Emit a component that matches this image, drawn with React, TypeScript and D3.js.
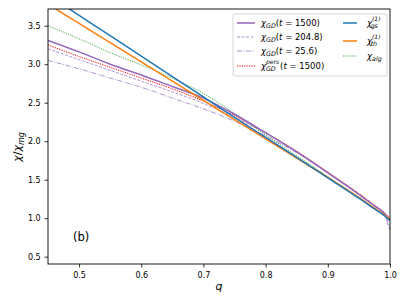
import React, { useEffect, useRef } from "react"
import * as d3 from "d3"

// chi / chi_mg versus q, panel (b)
const qs = [0.45, 0.5, 0.55, 0.6, 0.65, 0.7, 0.75, 0.8, 0.85, 0.9, 0.95, 0.975, 0.99, 1.0]
const chiGs = [3.9, 3.635, 3.37, 3.105, 2.84, 2.575, 2.31, 2.05, 1.79, 1.525, 1.26, 1.12, 1.04, 0.97]
const chiTh = [3.78, 3.53, 3.28, 3.03, 2.78, 2.53, 2.28, 2.03, 1.78, 1.53, 1.27, 1.13, 1.05, 0.99]
const chiAlg = [3.5, 3.33, 3.15, 2.99, 2.82, 2.62, 2.36, 2.08, 1.81, 1.54, 1.27, 1.13, 1.05, 0.98]
const gd1500 = [3.31, 3.16, 3.0, 2.86, 2.71, 2.56, 2.35, 2.11, 1.86, 1.59, 1.31, 1.16, 1.07, 0.97]
const gdPers = [3.25, 3.1, 2.96, 2.82, 2.68, 2.52, 2.33, 2.11, 1.87, 1.6, 1.32, 1.17, 1.08, 1.0]
const gd204 = [3.2, 3.06, 2.92, 2.78, 2.64, 2.49, 2.31, 2.1, 1.86, 1.59, 1.31, 1.16, 1.06, 0.84]
const gd25 = [3.05, 2.94, 2.82, 2.7, 2.56, 2.42, 2.26, 2.07, 1.85, 1.59, 1.31, 1.16, 1.06, 0.88]
const xTicks = [0.5, 0.6, 0.7, 0.8, 0.9, 1.0]
const yTicks = [0.5, 1.0, 1.5, 2.0, 2.5, 3.0, 3.5]

const series = [
  { vals: gd25, color: "#9467bd", w: 0.9, dash: "5,1.5,1,1.5", op: 0.8 },
  { vals: gd204, color: "#9467bd", w: 0.9, dash: "3,1.5", op: 0.8 },
  { vals: chiAlg, color: "#2ca02c", w: 0.9, dash: "1.2,1.2", op: 1 },
  { vals: gdPers, color: "#ff0000", w: 1, dash: "1.2,1.2", op: 1 },
  { vals: gd1500, color: "#9467bd", w: 1.5, dash: null, op: 1 },
  { vals: chiTh, color: "#ff7f0e", w: 1.5, dash: null, op: 1 },
  { vals: chiGs, color: "#1f77b4", w: 1.5, dash: null, op: 1 },
]

export default function App() {
  const ref = useRef(null)
  useEffect(() => {
    const svg = d3.select(ref.current)
    svg.selectAll("*").remove()
    const left = 48, right = 390, top = 9, bottom = 264
    const x = d3.scaleLinear().domain([0.45, 1.0]).range([left, right])
    const y = d3.scaleLinear().domain([0.405, 3.717]).range([bottom, top])
    const font = "DejaVu Sans"

    svg.append("defs").append("clipPath").attr("id", "plotclip")
      .append("rect").attr("x", left).attr("y", top).attr("width", right - left).attr("height", bottom - top)

    const line = d3.line().x((d, i) => x(qs[i])).y(d => y(d)).curve(d3.curveMonotoneX)
    const g = svg.append("g").attr("clip-path", "url(#plotclip)")
    series.forEach(s => {
      g.append("path").attr("d", line(s.vals)).attr("fill", "none")
        .attr("stroke", s.color).attr("stroke-width", s.w).attr("opacity", s.op)
        .attr("stroke-dasharray", s.dash)
    })

    // axes
    const xa = svg.append("g").attr("transform", `translate(0,${bottom})`)
      .call(d3.axisBottom(x).tickValues(xTicks).tickFormat(d3.format(".1f")).tickSizeOuter(0).tickSize(3.5))
    const ya = svg.append("g").attr("transform", `translate(${left},0)`)
      .call(d3.axisLeft(y).tickValues(yTicks).tickFormat(d3.format(".1f")).tickSizeOuter(0).tickSize(3.5))
    ;[xa, ya].forEach(a => {
      a.select(".domain").remove()
      a.selectAll("text").attr("font-family", font).attr("font-size", 8).attr("fill", "#000")
      a.selectAll("line").attr("stroke", "#000").attr("stroke-width", 0.8)
    })
    xa.selectAll("text").attr("dy", "0.95em")
    ya.selectAll("text").attr("dx", "-0.1em")

    svg.append("rect").attr("x", left).attr("y", top).attr("width", right - left).attr("height", bottom - top)
      .attr("fill", "none").attr("stroke", "#000").attr("stroke-width", 0.9)

    // axis labels
    svg.append("text").attr("x", (left + right) / 2).attr("y", 290).attr("text-anchor", "middle")
      .attr("font-family", font).attr("font-style", "italic").attr("font-size", 11).text("q")
    const yl = svg.append("text").attr("transform", "translate(21,147) rotate(-90)").attr("text-anchor", "middle")
      .attr("font-family", font).attr("font-size", 11)
    yl.append("tspan").attr("font-style", "italic").text("χ")
    yl.append("tspan").text("/")
    yl.append("tspan").attr("font-style", "italic").text("χ")
    yl.append("tspan").attr("font-style", "italic").attr("font-size", 8).attr("dy", 2.5).text("mg")

    svg.append("text").attr("x", 73).attr("y", 241).attr("font-family", font).attr("font-size", 11.5).text("(b)")

    // legend
    const lg = svg.append("g")
    lg.append("rect").attr("x", 233).attr("y", 14).attr("width", 154).attr("height", 62).attr("rx", 2)
      .attr("fill", "#fff").attr("fill-opacity", 0.8).attr("stroke", "#ccc").attr("stroke-width", 0.8)
    const items = [
      { s: series[4], x: 237, y: 23, sub: "GD", sup: null, arg: "1500" },
      { s: series[1], x: 237, y: 37, sub: "GD", sup: null, arg: "204.8" },
      { s: series[0], x: 237, y: 51, sub: "GD", sup: null, arg: "25.6" },
      { s: series[3], x: 237, y: 66, sub: "GD", sup: "pers", arg: "1500" },
      { s: series[6], x: 343, y: 23, sub: "gs", sup: "(1)", arg: null },
      { s: series[5], x: 343, y: 41, sub: "th", sup: "(1)", arg: null },
      { s: series[2], x: 343, y: 56, sub: "alg", sup: null, arg: null },
    ]
    items.forEach(it => {
      const len = it.x < 300 ? 18 : 14
      lg.append("line").attr("x1", it.x).attr("x2", it.x + len).attr("y1", it.y).attr("y2", it.y)
        .attr("stroke", it.s.color).attr("stroke-width", it.s.w).attr("opacity", it.s.op)
        .attr("stroke-dasharray", it.s.dash)
      const tx = it.x + len + (it.x < 300 ? 6 : 10)
      const t = lg.append("text").attr("x", tx).attr("y", it.y + 3).attr("font-family", font).attr("font-size", 8.5)
      t.append("tspan").attr("font-style", "italic").text("χ")
      if (it.sup) {
        const supW = it.sup.length * 3.3
        t.append("tspan").attr("font-style", "italic").attr("font-size", 6).attr("dy", -5.5).text(it.sup)
        t.append("tspan").attr("font-style", "italic").attr("font-size", 6.3).attr("dx", -supW).attr("dy", 7.5).text(it.sub)
        if (it.arg) {
          const subW = it.sub.length * 3.9
          t.append("tspan").attr("dx", Math.max(0, supW - subW) - 1).attr("dy", -2).text("(")
        }
      } else {
        t.append("tspan").attr("font-style", "italic").attr("font-size", 6.3).attr("dy", 2).text(it.sub)
        if (it.arg) t.append("tspan").attr("dy", -2).text("(")
      }
      if (it.arg) {
        t.append("tspan").attr("font-style", "italic").text("t")
        t.append("tspan").text(" = " + it.arg + ")")
      }
    })
  }, [])

  return (
    <svg ref={ref} width={407} height={305}
      style={{ position: "absolute", left: 0, top: 0, background: "#fff" }} />
  )
}
